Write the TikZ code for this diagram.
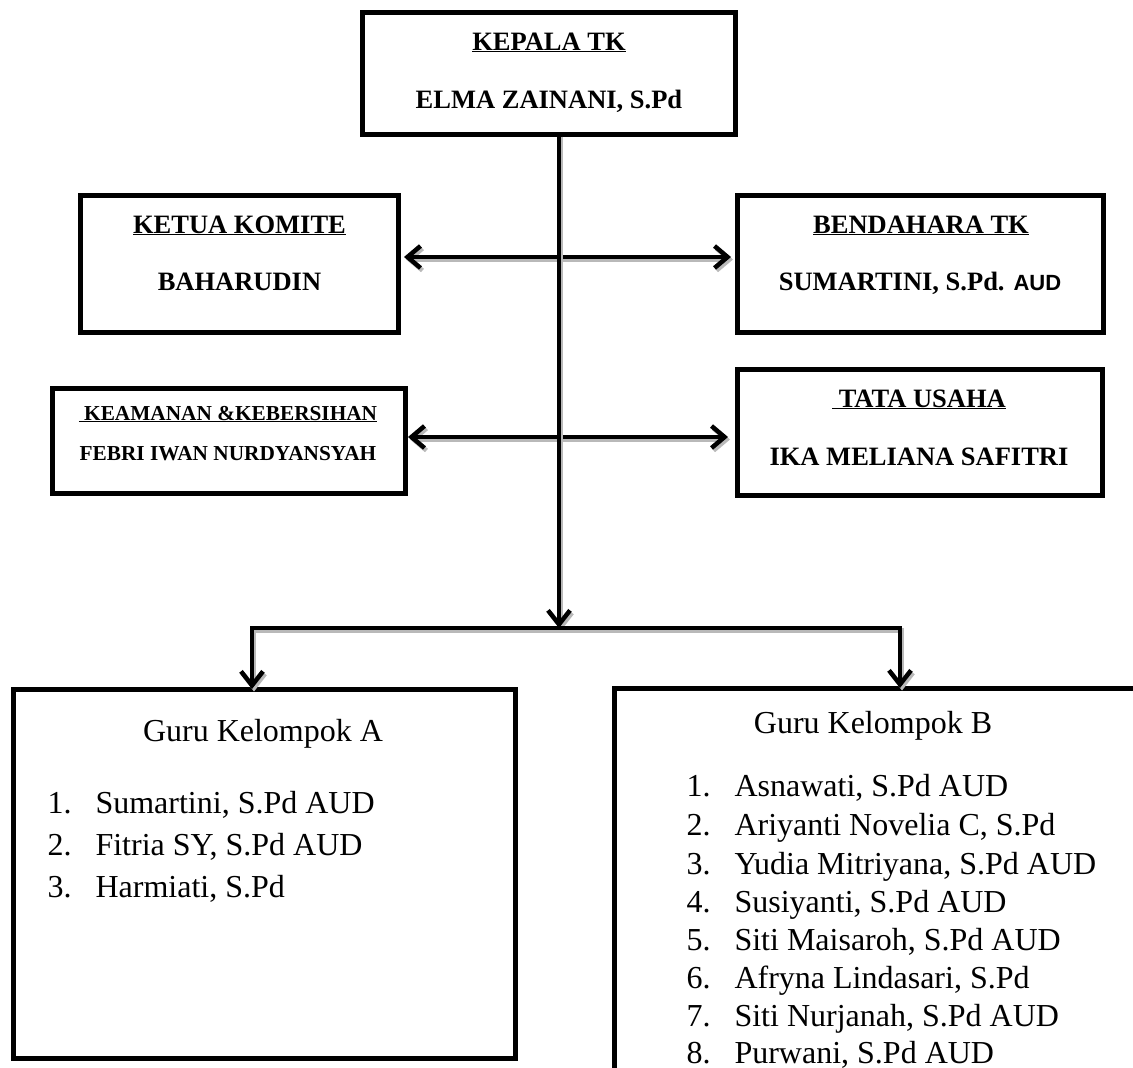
\documentclass[tikz,border=0pt]{standalone}
\usepackage{fontspec}
\setmainfont{Liberation Serif}
\newfontfamily\arialfont{Liberation Sans}
\usetikzlibrary{arrows.meta}
\newcommand\myfs[1]{\fontsize{#1}{#1}\selectfont}
\begin{document}
\begin{tikzpicture}[x=1pt,y=-1pt,
  box/.style={draw, line width=5pt, rectangle, inner sep=0pt, outer sep=0pt},
  conn/.style={line width=4.5pt, miter limit=2,
    preaction={draw=gray!55, line width=4.5pt, transform canvas={shift={(2pt,-2.5pt)}}}},
  tip/.style={-{Straight Barb[length=14pt,width=22pt]}},
  dbl/.style={{Straight Barb[length=13pt,width=22pt]}-{Straight Barb[length=13pt,width=22pt]}},
  head/.style={anchor=base, font=\myfs{26.5}\bfseries},
  headsm/.style={anchor=base, font=\myfs{21.3}\bfseries},
  item/.style={anchor=base west, font=\myfs{32}},
  title/.style={anchor=base, font=\myfs{32}}
]
\useasboundingbox (0,0) rectangle (1133,1068);

% boxes
\node[box, minimum width=373pt, minimum height=122pt] (kepala) at (548.5,73) {};
\node[box, minimum width=318pt, minimum height=137pt] (komite) at (239,263.5) {};
\node[box, minimum width=353pt, minimum height=105pt] (keamanan) at (228.5,440.5) {};
\node[box, minimum width=366pt, minimum height=137pt] (bendahara) at (920,263.5) {};
\node[box, minimum width=365pt, minimum height=126pt] (tatausaha) at (919.5,432) {};
\node[box, minimum width=502pt, minimum height=369pt] (guruA) at (264,873.5) {};
\node[box, minimum width=536pt, minimum height=402pt] (guruB) at (882,889) {};

% texts
\node[head] (kepalaT) at (549,50) {\underline{KEPALA TK}};
\node[head] (kepalaN) at (549,108) {ELMA ZAINANI, S.Pd};
\node[head] (komiteT) at (239.5,233) {\underline{KETUA KOMITE}};
\node[head] (komiteN) at (239.5,290) {BAHARUDIN};
\node[headsm] (keamananT) at (228,420) {\underline{\ KEAMANAN \&KEBERSIHAN}};
\node[headsm] (keamananN) at (228,460) {FEBRI IWAN NURDYANSYAH};
\node[head] (bendaharaT) at (921,233) {\underline{BENDAHARA TK}};
\node[head] (bendaharaN) at (920,290) {SUMARTINI, S.Pd. {\arialfont\fontsize{22}{22}\selectfont AUD}};
\node[head] (tatausahaT) at (919,407) {\underline{\ TATA USAHA}};
\node[head] (tatausahaN) at (919,465) {IKA MELIANA SAFITRI};

\node[title] (guruAT) at (263,741) {Guru Kelompok A};
\node[item] (a1n) at (44,813) {1.};
\node[item] (a1) at (92,813) {Sumartini, S.Pd AUD};
\node[item] (a2n) at (44,855) {2.};
\node[item] (a2) at (92,855) {Fitria SY, S.Pd AUD};
\node[item] (a3n) at (44,897) {3.};
\node[item] (a3) at (92,897) {Harmiati, S.Pd};

\node[title] (guruBT) at (873,733) {Guru Kelompok B};
\node[item] (b1n) at (683,796) {1.};
\node[item] (b1) at (731,796) {Asnawati, S.Pd AUD};
\node[item] (b2n) at (683,835) {2.};
\node[item] (b2) at (731,835) {Ariyanti Novelia C, S.Pd};
\node[item] (b3n) at (683,874) {3.};
\node[item] (b3) at (731,874) {Yudia Mitriyana, S.Pd AUD};
\node[item] (b4n) at (683,912) {4.};
\node[item] (b4) at (731,912) {Susiyanti, S.Pd AUD};
\node[item] (b5n) at (683,950) {5.};
\node[item] (b5) at (731,950) {Siti Maisaroh, S.Pd AUD};
\node[item] (b6n) at (683,988) {6.};
\node[item] (b6) at (731,988) {Afryna Lindasari, S.Pd};
\node[item] (b7n) at (683,1026) {7.};
\node[item] (b7) at (731,1026) {Siti Nurjanah, S.Pd AUD};
\node[item] (b8n) at (683,1063) {8.};
\node[item] (b8) at (731,1063) {Purwani, S.Pd AUD};

% connectors
\coordinate (hub) at (559,628);
\coordinate (hl) at (252,628);
\coordinate (hr) at (900,628);
\draw[conn,dbl] ([shift={(6,-6.5)}]komite.east) -- ([shift={(-6,-6.5)}]bendahara.west);
\draw[conn,dbl] ([shift={(3,-3.5)}]keamanan.east) -- ([shift={(-9,5)}]tatausaha.west);
\draw[conn,tip] (kepala.south -| hub) -- (hub);
\draw[conn,tip] (hub) -- (hl) -- (hl |- guruA.north);
\draw[conn,tip] (hub) -- (hr) -- (hr |- guruB.north);
\end{tikzpicture}
\end{document}
